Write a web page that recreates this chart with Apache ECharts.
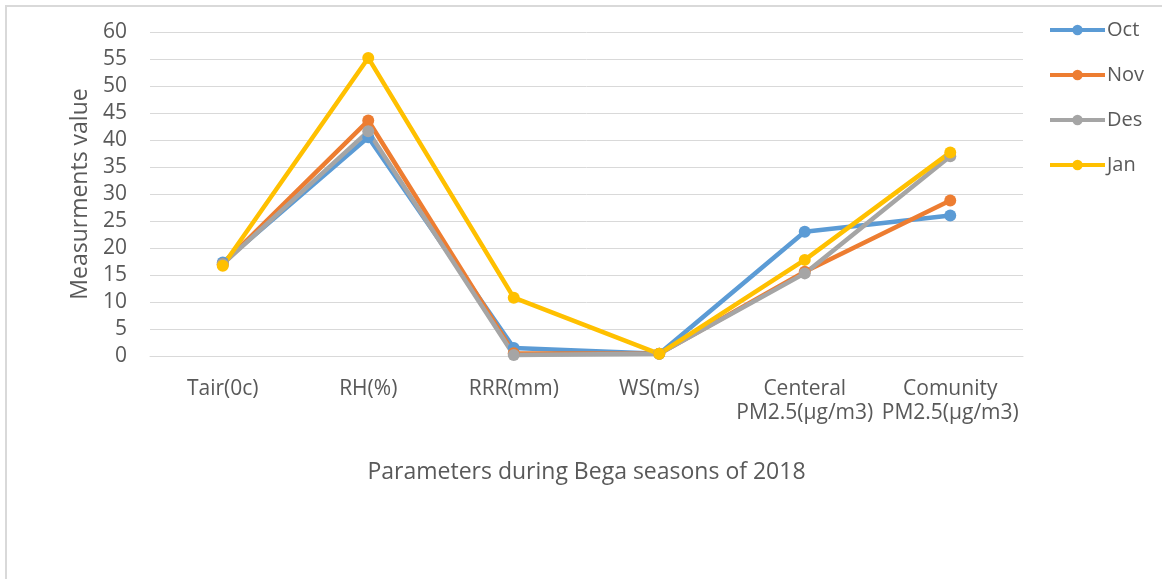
<!DOCTYPE html>
<html><head><meta charset="utf-8">
<script src="https://cdn.jsdelivr.net/npm/echarts@6/dist/echarts.min.js"></script>
<style>html,body{margin:0;padding:0;background:#fff;}
#frame{position:absolute;left:5px;top:5px;width:1200px;height:620px;border-left:2px solid #d9d9d9;border-top:2px solid #d9d9d9;}
#c{position:absolute;left:0;top:0;width:1162px;height:579px;}</style>
</head><body><div id="frame"></div><div id="c"></div>
<script>
const categories = ['Tair(0c)', 'RH(%)', 'RRR(mm)', 'WS(m/s)', 'Centeral\nPM2.5(µg/m3)', 'Comunity\nPM2.5(µg/m3)'];
const oct = [17.3, 40.5, 1.5, 0.4, 23.0, 26.0];
const nov = [17.0, 43.6, 0.5, 0.4, 15.6, 28.8];
const des = [17.0, 41.6, 0.2, 0.4, 15.3, 37.0];
const jan = [16.7, 55.2, 10.8, 0.4, 17.8, 37.7];
const seriesNames = ['Oct', 'Nov', 'Des', 'Jan'];
const colors = ['#5b9bd5', '#ed7d31', '#a5a5a5', '#ffc000'];
const font = 'Open Sans';
const chart = echarts.init(document.getElementById('c'));
const data = [oct, nov, des, jan];
chart.setOption({
  animation: false,
  color: colors,
  textStyle: {fontFamily: font},
  grid: {left: 150, right: 139, top: 32, bottom: 223},
  legend: {
    orient: 'vertical', left: 1043, top: 13, itemWidth: 55, itemHeight: 13, itemGap: 21,
    lineStyle: {width: 4},
    textStyle: {fontFamily: font, fontSize: 20, color: '#595959', padding: [0, 0, 0, -3], lineHeight: 24},
    data: seriesNames
  },
  xAxis: {
    type: 'category', data: categories, boundaryGap: true,
    name: 'Parameters during Bega seasons of 2018', nameLocation: 'middle', nameGap: 105,
    nameTextStyle: {fontFamily: font, fontSize: 23, color: '#595959'},
    axisLine: {lineStyle: {color: '#d9d9d9', width: 1}},
    axisTick: {show: false},
    axisLabel: {fontFamily: font, fontSize: 21, color: '#595959', margin: 21, lineHeight: 24, interval: 0}
  },
  yAxis: {
    type: 'value', min: 0, max: 60, interval: 5,
    name: 'Measurments value', nameLocation: 'middle', nameGap: 56, nameRotate: 90,
    nameTextStyle: {fontFamily: font, fontSize: 23, color: '#595959'},
    axisLine: {show: false}, axisTick: {show: false},
    axisLabel: {fontFamily: font, fontSize: 21, color: '#595959', margin: 23},
    splitLine: {lineStyle: {color: '#d9d9d9', width: 1}}
  },
  series: data.map((d, i) => ({
    name: seriesNames[i], type: 'line', data: d,
    symbol: 'circle', symbolSize: 12,
    lineStyle: {width: 4.5, color: colors[i]},
    itemStyle: {color: colors[i]}
  }))
});
</script></body></html>
